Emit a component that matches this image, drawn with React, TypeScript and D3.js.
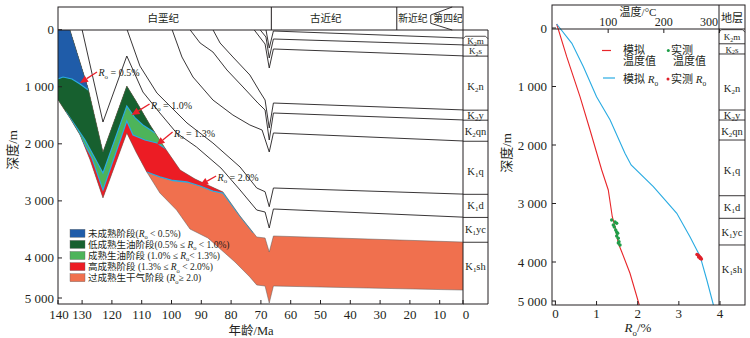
import React from 'react';
import * as d3 from 'd3';

type P = [number, number];

// ---------- axes ----------
const ageTicks = [140, 130, 120, 110, 100, 90, 80, 70, 60, 50, 40, 30, 20, 10, 0];
const depthTicks = [0, 1000, 2000, 3000, 4000, 5000];
const tempTicks = [100, 200, 300];
const roTicks = [0, 1, 2, 3, 4];

// ---------- geological periods ----------
const periodNames = ['白垩纪', '古近纪', '新近纪', '第四纪'];
const periodLabelAges = [102.8, 48.2, 19, 7.2];
const periodDividers = [66.5, 24.4];
const quaternaryBracketAges = [13, 5.8];

// ---------- strata (present-day tops, m) ----------
const stratSub = ['2', '2', '2', '2', '2', '1', '1', '1', '1'];
const stratSuffix = ['m', 's', 'n', 'y', 'qn', 'q', 'd', 'yc', 'sh'];
const stratTops = [150, 270, 463, 1410, 1586, 1955, 2885, 3290, 3725];
const stratLabelDepths = [200, 375, 1000, 1498, 1790, 2480, 3087, 3507, 4145];
const stratTopsRight = [63, 270, 444, 1402, 1573, 1915, 2867, 3253, 3709];
const stratLabelDepthsRight = [160, 370, 1030, 1490, 1770, 2440, 3070, 3490, 4130];

// ---------- burial-history horizons [age Ma, depth m] ----------
const horizonL1: P[] = [[68.3, 0], [67.2, 321], [65.8, 23], [0, 150]];
const horizonL2: P[] = [[70.3, 0], [68.3, 128], [67.2, 496], [65.8, 163], [0, 270]];
const horizonL3: P[] = [[72.3, 0], [68.6, 251], [67.2, 671], [65.8, 338], [0, 463]];
const horizonL4: P[] = [[86.1, 0], [83.7, 233], [79.4, 478], [73.7, 794], [70.3, 1092], [68.6, 1232], [67.2, 1723], [65.8, 1285], [0, 1410]];
const horizonL5: P[] = [[93.8, 0], [90.4, 233], [86.1, 391], [81.4, 706], [76.0, 1004], [71.0, 1285], [68.6, 1407], [67.2, 1933], [65.8, 1460], [0, 1586]];
const horizonL6: P[] = [[99.8, 0], [96.5, 478], [92.8, 829], [86.1, 1232], [79.4, 1495], [73.7, 1670], [69.6, 1758], [67.2, 2143], [65.8, 1810], [0, 1955]];
const horizonL7: P[] = [[114.9, 0], [110.6, 636], [104.9, 1109], [94.8, 1635], [86.1, 1986], [77.0, 2406], [71.4, 2774], [68.6, 2839], [67.2, 3102], [65.8, 2774], [0, 2885]];
const horizonL8: P[] = [[130.0, 0], [123.0, 1618], [115.0, 461], [109.6, 1092], [103.9, 1460], [98.3, 1810], [91.6, 2056], [83.4, 2424], [77.0, 2809], [71.4, 3160], [68.6, 3195], [67.2, 3475], [65.8, 3142], [0, 3290]];

// ---------- source-rock band ----------
const bandTop: P[] = [[140, 0], [134.1, 0], [128.0, 1022], [123.0, 2143], [115.0, 987], [111.9, 1250], [107.2, 1670], [102.2, 2073], [97.1, 2459], [92.1, 2616], [87.1, 2739], [82.7, 2844], [77.0, 3265], [71.4, 3633], [68.6, 3650], [67.2, 3896], [65.8, 3615], [0, 3725]];
const bandBottom: P[] = [[140, 1075], [134.1, 1547], [130.7, 1845], [127.3, 2284], [123.0, 2949], [115.0, 1810], [111.9, 2143], [108.3, 2494], [103.9, 2862], [98.3, 3160], [93.8, 3493], [87.8, 3650], [78.7, 4071], [73.7, 4334], [71.4, 4474], [68.6, 4492], [67.2, 4790], [65.8, 4492], [0, 4565]];

// ---------- Ro iso-lines ----------
const iso05: P[] = [[140, 864], [138.1, 864], [136.4, 829], [133.4, 864], [130.7, 952], [128.0, 1057], [125.7, 0]];
const iso10: P[] = [[140, 2108], [135.4, 1442], [129.0, 1933], [123.0, 2511], [115.0, 1337], [112.2, 1547], [109.6, 1670], [105.5, 1810], [102.2, 0]];
const iso13: P[] = [[140, 2634], [131.4, 1793], [126.7, 2248], [123.0, 2809], [115.0, 1600], [112.9, 1845], [108.9, 1933], [104.9, 1986], [101.8, 2091], [98.8, 0]];
const iso20: P[] = [[140, 5100], [110.6, 5100], [108.3, 2494], [103.9, 2581], [99.5, 2643], [94.8, 2669], [90.4, 2739], [86.1, 2827], [82.7, 2862], [81.0, 0]];
const iso20Edge: P[] = [[108.3, 2494], [103.9, 2581], [99.5, 2643], [94.8, 2669], [90.4, 2739], [86.1, 2827], [82.7, 2862], [77.0, 3265], [72.6, 3554]];

const zoneColors = ['#1f5ca9', '#17602f', '#4db45a', '#ec1c24', '#f0704e'];
const legendPre = ['未成熟阶段(', '低成熟生油阶段(0.5% ≤ ', '成熟生油阶段 (1.0% ≤ ', '高成熟阶段 (1.3% ≤ ', '过成熟生干气阶段 ('];
const legendPost = [' < 0.5%)', ' < 1.0%)', '< 1.3%)', ' < 2.0%)', '≥ 2.0)'];

const roLabels = ['0.5%', '1.0%', '1.3%', '2.0%'];
const roArrowTips: P[] = [[130.7, 934], [113.4, 1495], [105.0, 2021], [90.4, 2722]];
const roArrowOffsets: P[] = [[17, -11], [18, -11], [16, -13], [16, -9]];

// ---------- right panel ----------
const tempSim: P[] = [[7.5, -68], [25.5, 490], [49.4, 1174], [67.4, 1744], [88.4, 2427], [100.2, 2769], [107.4, 3226], [112.3, 3397], [118.2, 3680], [124.3, 3824], [139.2, 4193], [155.9, 4735]];
const roSim: P[] = [[0.03, -68], [0.40, 262], [0.68, 662], [1.00, 1174], [1.33, 1573], [1.69, 2142], [1.84, 2342], [2.38, 2713], [2.95, 3168], [3.27, 3568], [3.52, 3909], [3.68, 4308], [3.84, 4735]];
const tempMeasured: P[] = [[106.3, 3282], [109.2, 3368], [112.3, 3316], [115.3, 3338], [111.0, 3402], [113.5, 3453], [115.3, 3487], [117.1, 3509], [115.3, 3556], [118.2, 3595], [119.5, 3653], [118.2, 3675], [121.3, 3709]];
const roMeasured: P[] = [[3.44, 3870], [3.47, 3885], [3.50, 3905], [3.53, 3925], [3.55, 3950], [3.52, 3940], [3.48, 3915]];

const FF = "'Liberation Serif','Times New Roman','Noto Sans CJK SC',serif";
const CYAN = '#29abe2';
const INK = '#231f20';

function Ro({ fs }: { fs: number }) {
  return (
    <>
      <tspan fontStyle="italic">R</tspan>
      <tspan fontSize={fs * 0.68} dy={fs * 0.28}>o</tspan>
    </>
  );
}

function Arrow({ tip, tail }: { tip: P; tail: P }) {
  const dx = tip[0] - tail[0], dy = tip[1] - tail[1];
  const len = Math.hypot(dx, dy);
  const ux = dx / len, uy = dy / len;
  const hl = 8, hw = 3.6;
  const bx = tip[0] - ux * hl, by = tip[1] - uy * hl;
  const pts = [tip, [bx - uy * hw, by + ux * hw], [bx + uy * hw, by - ux * hw]];
  return (
    <g>
      <line x1={tail[0]} y1={tail[1]} x2={bx} y2={by} stroke="#e8202a" strokeWidth={1.3} />
      <polygon points={pts.map(p => p.join(',')).join(' ')} fill="#e8202a" />
    </g>
  );
}

export default function App() {
  // left panel scales
  const xL = d3.scaleLinear().domain([140, 0]).range([52.3, 469.5]);
  const yL = d3.scaleLinear().domain([0, 4800]).range([29.7, 303.6]);
  const L0 = 58, R0 = 463, T0 = 30, B0 = 304, HT = 7, SC = 488;
  const line = d3.line<P>().x(d => xL(d[0])).y(d => yL(d[1]));
  const above = d3.area<P>().x(d => xL(d[0])).y0(yL(-3000)).y1(d => yL(d[1]));
  const bandPath = (line([...bandTop, ...bandBottom.slice().reverse()]) || '') + 'Z';
  const horizons = [horizonL1, horizonL2, horizonL3, horizonL4, horizonL5, horizonL6, horizonL7, horizonL8];
  const isoFills = [iso05, iso10, iso13, iso20];

  // right panel scales
  const xT = d3.scaleLinear().domain([0, 300]).range([552.5, 719.5]);
  const xR = d3.scaleLinear().domain([0, 4]).range([555.4, 720]);
  const yR = d3.scaleLinear().domain([0, 4000]).range([28, 262]);
  const RL = 552, RR = 719, RC = 745, RT = 5, RA = 29, RB = 305;
  const tLine = d3.line<P>().x(d => xT(d[0])).y(d => yR(d[1]));
  const rLine = d3.line<P>().x(d => xR(d[0])).y(d => yR(d[1]));

  const clampX = (v: number, a: number, b: number) => Math.max(a, Math.min(b, v));
  const fmt = (v: number) => d3.format(',')(v).replace(',', ' ');

  const kLabel = (key: string, i: number, cx: number, cy: number) => {
    const fs = i < 2 ? 9 : 10.5;
    return (
      <text key={key} x={cx} y={cy + fs * 0.33} textAnchor="middle" fontSize={fs} fill={INK}>
        K<tspan fontSize={fs * 0.66} dy={fs * 0.2}>{stratSub[i]}</tspan><tspan dy={-fs * 0.2}>{stratSuffix[i]}</tspan>
      </text>
    );
  };

  const bracket = (x0: number, x1: number, y: number) =>
    `M${x0},${y + 0.5} L${x0 + 2.5},${y - 2} L${x1 - 2.5},${y - 2} L${x1},${y + 0.5}`;

  return (
    <svg width={750} height={338} style={{ position: 'absolute', left: 0, top: 0, fontFamily: FF }}>
      <rect x={0} y={0} width={750} height={338} fill="#fff" />
      <defs>
        <clipPath id="plotClip"><rect x={L0} y={T0} width={R0 - L0} height={B0 - T0} /></clipPath>
        <clipPath id="bandClip"><path d={bandPath} /></clipPath>
      </defs>

      {/* ---------- LEFT PANEL ---------- */}
      <g clipPath="url(#plotClip)">
        <g clipPath="url(#bandClip)">
          <rect x={L0} y={T0} width={R0 - L0} height={B0 - T0} fill={zoneColors[4]} />
          {isoFills.slice().reverse().map((iso, k) => (
            <path key={'z' + k} d={above(iso) || ''} fill={zoneColors[3 - k]} />
          ))}
          {[iso05, iso10, iso13].map((iso, k) => (
            <path key={'c' + k} d={line(iso) || ''} fill="none" stroke={CYAN} strokeWidth={1.2} />
          ))}
          <path d={line(iso20Edge) || ''} fill="none" stroke={CYAN} strokeWidth={1.3} />
        </g>
        <path d={bandPath} fill="none" stroke="#5a5a5a" strokeWidth={0.5} />
        {horizons.map((h, k) => (
          <path key={'h' + k} d={line(h) || ''} fill="none" stroke={INK} strokeWidth={0.9} />
        ))}
      </g>

      {/* Ro annotations */}
      {roArrowTips.map((t, i) => {
        const tip: P = [xL(t[0]), yL(t[1])];
        const tail: P = [tip[0] + roArrowOffsets[i][0], tip[1] + roArrowOffsets[i][1]];
        return (
          <g key={'a' + i}>
            <Arrow tip={tip} tail={tail} />
            <text x={tail[0] + 1.5} y={tail[1] + 4.5} fontSize={10} fill={INK}>
              <Ro fs={10} /><tspan dy={-2.8}>{' = ' + roLabels[i]}</tspan>
            </text>
          </g>
        );
      })}

      {/* legend */}
      {legendPre.map((t, i) => {
        const cy = 233.3 + i * 11.1;
        return (
          <g key={'lg' + i}>
            <rect x={70} y={cy - 4} width={15} height={8} fill={zoneColors[i]} stroke="#666" strokeWidth={0.4} />
            <text x={88} y={cy + 3.3} fontSize={9.5} fill={INK}>
              {t}<Ro fs={9.5} /><tspan dy={-2.66}>{legendPost[i]}</tspan>
            </text>
          </g>
        );
      })}

      {/* frame & header */}
      <rect x={L0} y={HT} width={R0 - L0} height={B0 - HT} fill="none" stroke={INK} strokeWidth={1} />
      <line x1={L0} y1={T0} x2={SC} y2={T0} stroke={INK} strokeWidth={1} />
      {periodDividers.map((a, i) => (
        <line key={'pd' + i} x1={xL(a)} y1={HT} x2={xL(a)} y2={T0} stroke={INK} strokeWidth={1} />
      ))}
      <path
        d={`M${xL(quaternaryBracketAges[1])},${HT} L${xL(quaternaryBracketAges[0])},15 L${xL(quaternaryBracketAges[0])},23.3 L${xL(quaternaryBracketAges[1])},${T0}`}
        fill="none" stroke={INK} strokeWidth={0.9} />
      {periodNames.map((n, i) => (
        <text key={'pn' + i} x={xL(periodLabelAges[i])} y={22.3} textAnchor="middle" fontSize={i >= 2 ? 9.8 : 10.5} fill={INK}>{n}</text>
      ))}

      {/* left strat column */}
      <line x1={SC} y1={T0} x2={SC} y2={B0} stroke={INK} strokeWidth={1} />
      <line x1={R0} y1={B0} x2={SC} y2={B0} stroke={INK} strokeWidth={1} />
      <path d={bracket(R0, SC, yL(stratTops[0]))} fill="none" stroke={INK} strokeWidth={0.8} />
      {stratTops.slice(1).map((d, i) => (
        <line key={'sl' + i} x1={R0} y1={yL(d)} x2={SC} y2={yL(d)} stroke={INK} strokeWidth={0.9} />
      ))}
      {stratLabelDepths.map((d, i) => kLabel('kl' + i, i, (R0 + SC) / 2, yL(d)))}

      {/* left axes */}
      {ageTicks.map(v => {
        const tx = clampX(xL(v), L0, R0);
        return (
          <g key={'xt' + v}>
            <line x1={tx} y1={B0} x2={tx} y2={B0 - 4} stroke={INK} strokeWidth={1} />
            <text x={clampX(xL(v), 59, 466)} y={318.5} textAnchor="middle" fontSize={13} fill={INK}>{v}</text>
          </g>
        );
      })}
      {depthTicks.map(v => {
        const ty = Math.min(yL(v), 298);
        return (
          <g key={'yt' + v}>
            <line x1={L0} y1={ty} x2={L0 + 4} y2={ty} stroke={INK} strokeWidth={1} />
            <text x={54} y={ty + 4.5} textAnchor="end" fontSize={13} fill={INK}>{fmt(v)}</text>
          </g>
        );
      })}
      <text x={251} y={335} textAnchor="middle" fontSize={12.5} fill={INK}>年龄/Ma</text>
      <text transform="translate(17,150) rotate(-90)" textAnchor="middle" fontSize={13} fill={INK}>深度/m</text>

      {/* ---------- RIGHT PANEL ---------- */}
      <path d={tLine(tempSim) || ''} fill="none" stroke="#e8262a" strokeWidth={1.1} />
      <path d={rLine(roSim) || ''} fill="none" stroke={CYAN} strokeWidth={1.1} />
      {tempMeasured.map((p, i) => (
        <circle key={'tm' + i} cx={xT(p[0])} cy={yR(p[1])} r={1.7} fill="#1e9e48" />
      ))}
      {roMeasured.map((p, i) => (
        <circle key={'rm' + i} cx={xR(p[0])} cy={yR(p[1])} r={1.7} fill="#e0202a" />
      ))}

      <rect x={RL} y={RT} width={RC - RL} height={RB - RT} fill="none" stroke={INK} strokeWidth={1} />
      <line x1={RL} y1={RA} x2={RC} y2={RA} stroke={INK} strokeWidth={1} />
      <line x1={RR} y1={RT} x2={RR} y2={RB} stroke={INK} strokeWidth={1} />
      <text x={732} y={22} textAnchor="middle" fontSize={11} fill={INK}>地层</text>
      <path d={bracket(RR, RC, yR(stratTopsRight[0]))} fill="none" stroke={INK} strokeWidth={0.8} />
      {stratTopsRight.slice(1).map((d, i) => (
        <line key={'rsl' + i} x1={RR} y1={yR(d)} x2={RC} y2={yR(d)} stroke={INK} strokeWidth={0.9} />
      ))}
      {stratLabelDepthsRight.map((d, i) => kLabel('kr' + i, i, (RR + RC) / 2, yR(d)))}

      {tempTicks.map(v => (
        <g key={'tt' + v}>
          <line x1={xT(v)} y1={RA} x2={xT(v)} y2={RA + 4} stroke={INK} strokeWidth={1} />
          <text x={Math.min(xT(v), 709)} y={26} textAnchor="middle" fontSize={12} fill={INK}>{v}</text>
        </g>
      ))}
      <text x={638} y={16} textAnchor="middle" fontSize={11} fill={INK}>温度/°C</text>
      {roTicks.map(v => (
        <g key={'rt' + v}>
          <line x1={xR(v)} y1={RB} x2={xR(v)} y2={RB - 4} stroke={INK} strokeWidth={1} />
          <text x={xR(v)} y={318} textAnchor="middle" fontSize={13} fill={INK}>{v}</text>
        </g>
      ))}
      {depthTicks.map(v => {
        const ty = Math.min(yR(v), 301);
        return (
          <g key={'ryt' + v}>
            <line x1={RL} y1={ty} x2={RL + 4} y2={ty} stroke={INK} strokeWidth={1} />
            <text x={547} y={ty + 4.5} textAnchor="end" fontSize={13} fill={INK}>{fmt(v)}</text>
          </g>
        );
      })}
      <text x={638} y={332} textAnchor="middle" fontSize={13} fill={INK}>
        <Ro fs={13} /><tspan dy={-3.6}>/%</tspan>
      </text>
      <text transform="translate(511,153) rotate(-90)" textAnchor="middle" fontSize={13} fill={INK}>深度/m</text>

      {/* right legend */}
      <line x1={602} y1={50.5} x2={611} y2={50.5} stroke="#e8262a" strokeWidth={1.2} />
      <text x={623} y={54} fontSize={11} fill={INK}>模拟</text>
      <text x={623} y={64.5} fontSize={11} fill={INK}>温度值</text>
      <circle cx={668.3} cy={50.5} r={1.5} fill="#1e9e48" />
      <text x={671} y={54} fontSize={11} fill={INK}>实测</text>
      <text x={673} y={64.5} fontSize={11} fill={INK}>温度值</text>
      <line x1={603} y1={78} x2={615} y2={78} stroke={CYAN} strokeWidth={1.2} />
      <text x={623} y={82.5} fontSize={11} fill={INK}>模拟 <Ro fs={11} /></text>
      <circle cx={668} cy={79} r={1.5} fill="#e0202a" />
      <text x={671} y={82.5} fontSize={11} fill={INK}>实测 <Ro fs={11} /></text>
    </svg>
  );
}
